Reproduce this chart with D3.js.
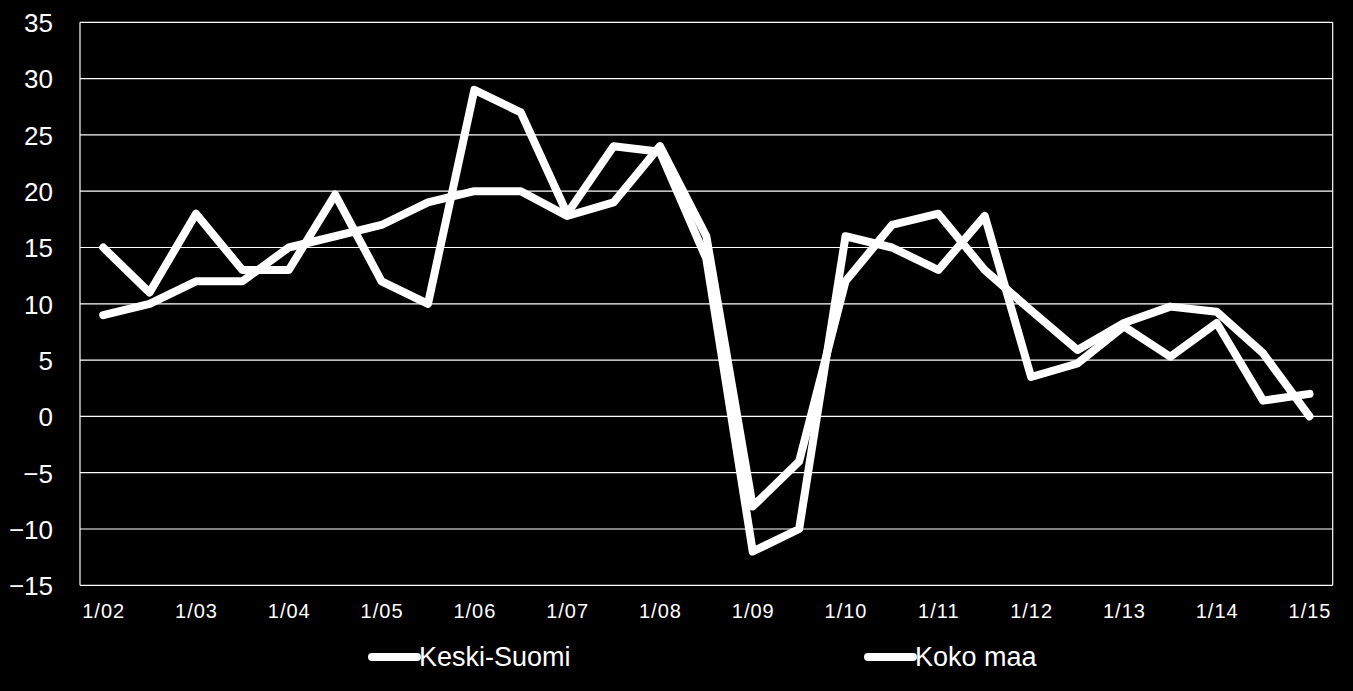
<!DOCTYPE html>
<html>
<head>
<meta charset="utf-8">
<script src="https://cdn.jsdelivr.net/npm/d3@7"></script>
<style>
  html, body { margin: 0; padding: 0; background: #000; }
  svg { display: block; }
</style>
</head>
<body>
<svg id="chart" width="1353" height="691"></svg>
<script>
// ---- data ----
const periods = ["1/02","7/02","1/03","7/03","1/04","7/04","1/05","7/05","1/06","7/06","1/07","7/07",
                 "1/08","7/08","1/09","7/09","1/10","7/10","1/11","7/11","1/12","7/12","1/13","7/13",
                 "1/14","7/14","1/15"];
const keskiSuomi = [15, 11, 18, 13, 13, 19.7, 12, 10, 29, 27, 18, 24, 23.5, 14, -12, -10,
                    16, 15, 13, 17.8, 3.5, 4.7, 8, 5.3, 8.3, 1.4, 2];
const kokoMaa    = [9, 10, 12, 12, 15, 16, 17, 19, 20, 20, 17.8, 19, 24, 16, -8, -4,
                    12, 17, 18, 13, 9.4, 5.9, 8.3, 9.75, 9.3, 5.6, 0];
const seriesNames = ["Keski-Suomi", "Koko maa"];
const yTicks = [-15, -10, -5, 0, 5, 10, 15, 20, 25, 30, 35];
const xTickLabels = ["1/02","1/03","1/04","1/05","1/06","1/07","1/08","1/09","1/10","1/11","1/12","1/13","1/14","1/15"];

(function () {
// ---- layout ----
const svg = d3.select("#chart");
const pLeft = 80, pRight = 1332.7, pTop = 22.3, pBottom = 585.3;

const x = d3.scalePoint().domain(periods).range([pLeft, pRight]).padding(0.5);
const y = d3.scaleLinear().domain([-15, 35]).range([pBottom, pTop]);

svg.append("rect").attr("width", 1353).attr("height", 691).attr("fill", "#000");

// gridlines
svg.append("g").selectAll("line").data(yTicks).join("line")
  .attr("x1", pLeft).attr("x2", pRight)
  .attr("y1", d => y(d)).attr("y2", d => y(d))
  .attr("stroke", "#fff").attr("stroke-width", 1.2);

// plot border (left/right)
svg.append("line").attr("x1", pLeft).attr("x2", pLeft).attr("y1", pTop).attr("y2", pBottom)
  .attr("stroke", "#fff").attr("stroke-width", 1.2);
svg.append("line").attr("x1", pRight).attr("x2", pRight).attr("y1", pTop).attr("y2", pBottom)
  .attr("stroke", "#fff").attr("stroke-width", 1.2);

// y axis labels
const yAxis = d3.axisLeft(y).tickValues(yTicks).tickSize(0).tickPadding(0).tickFormat(d3.format("d"));
const yg = svg.append("g").attr("transform", `translate(53,0)`).call(yAxis);
yg.select(".domain").remove();
yg.selectAll("text").attr("fill", "#fff")
  .style("font-family", "'Liberation Sans', Arial, sans-serif").style("font-size", "26px")
  .attr("dy", "0.36em");

// x axis labels
const xAxis = d3.axisBottom(x).tickValues(xTickLabels).tickSize(0).tickPadding(0);
const xg = svg.append("g").attr("transform", `translate(0,${pBottom})`).call(xAxis);
xg.select(".domain").remove();
xg.selectAll("text").attr("fill", "#fff").attr("y", 33).attr("dy", 0)
  .style("font-family", "'Liberation Sans', Arial, sans-serif").style("font-size", "20px")
  .style("letter-spacing", "1px");

// lines
const line = d3.line().x((d, i) => x(periods[i])).y(d => y(d));
[keskiSuomi, kokoMaa].forEach(s => {
  svg.append("path").datum(s).attr("d", line)
    .attr("fill", "none").attr("stroke", "#fff").attr("stroke-width", 8)
    .attr("stroke-linejoin", "round").attr("stroke-linecap", "round");
});

// legend
const legendX = [372, 868];
const lg = svg.append("g");
seriesNames.forEach((name, i) => {
  lg.append("line").attr("x1", legendX[i]).attr("x2", legendX[i] + 45)
    .attr("y1", 657).attr("y2", 657)
    .attr("stroke", "#fff").attr("stroke-width", 8).attr("stroke-linecap", "round");
  lg.append("text").attr("x", legendX[i] + 47).attr("y", 666).text(name)
    .attr("fill", "#fff")
    .style("font-family", "'Liberation Sans', Arial, sans-serif").style("font-size", "27px");
});
})();
</script>
</body>
</html>
